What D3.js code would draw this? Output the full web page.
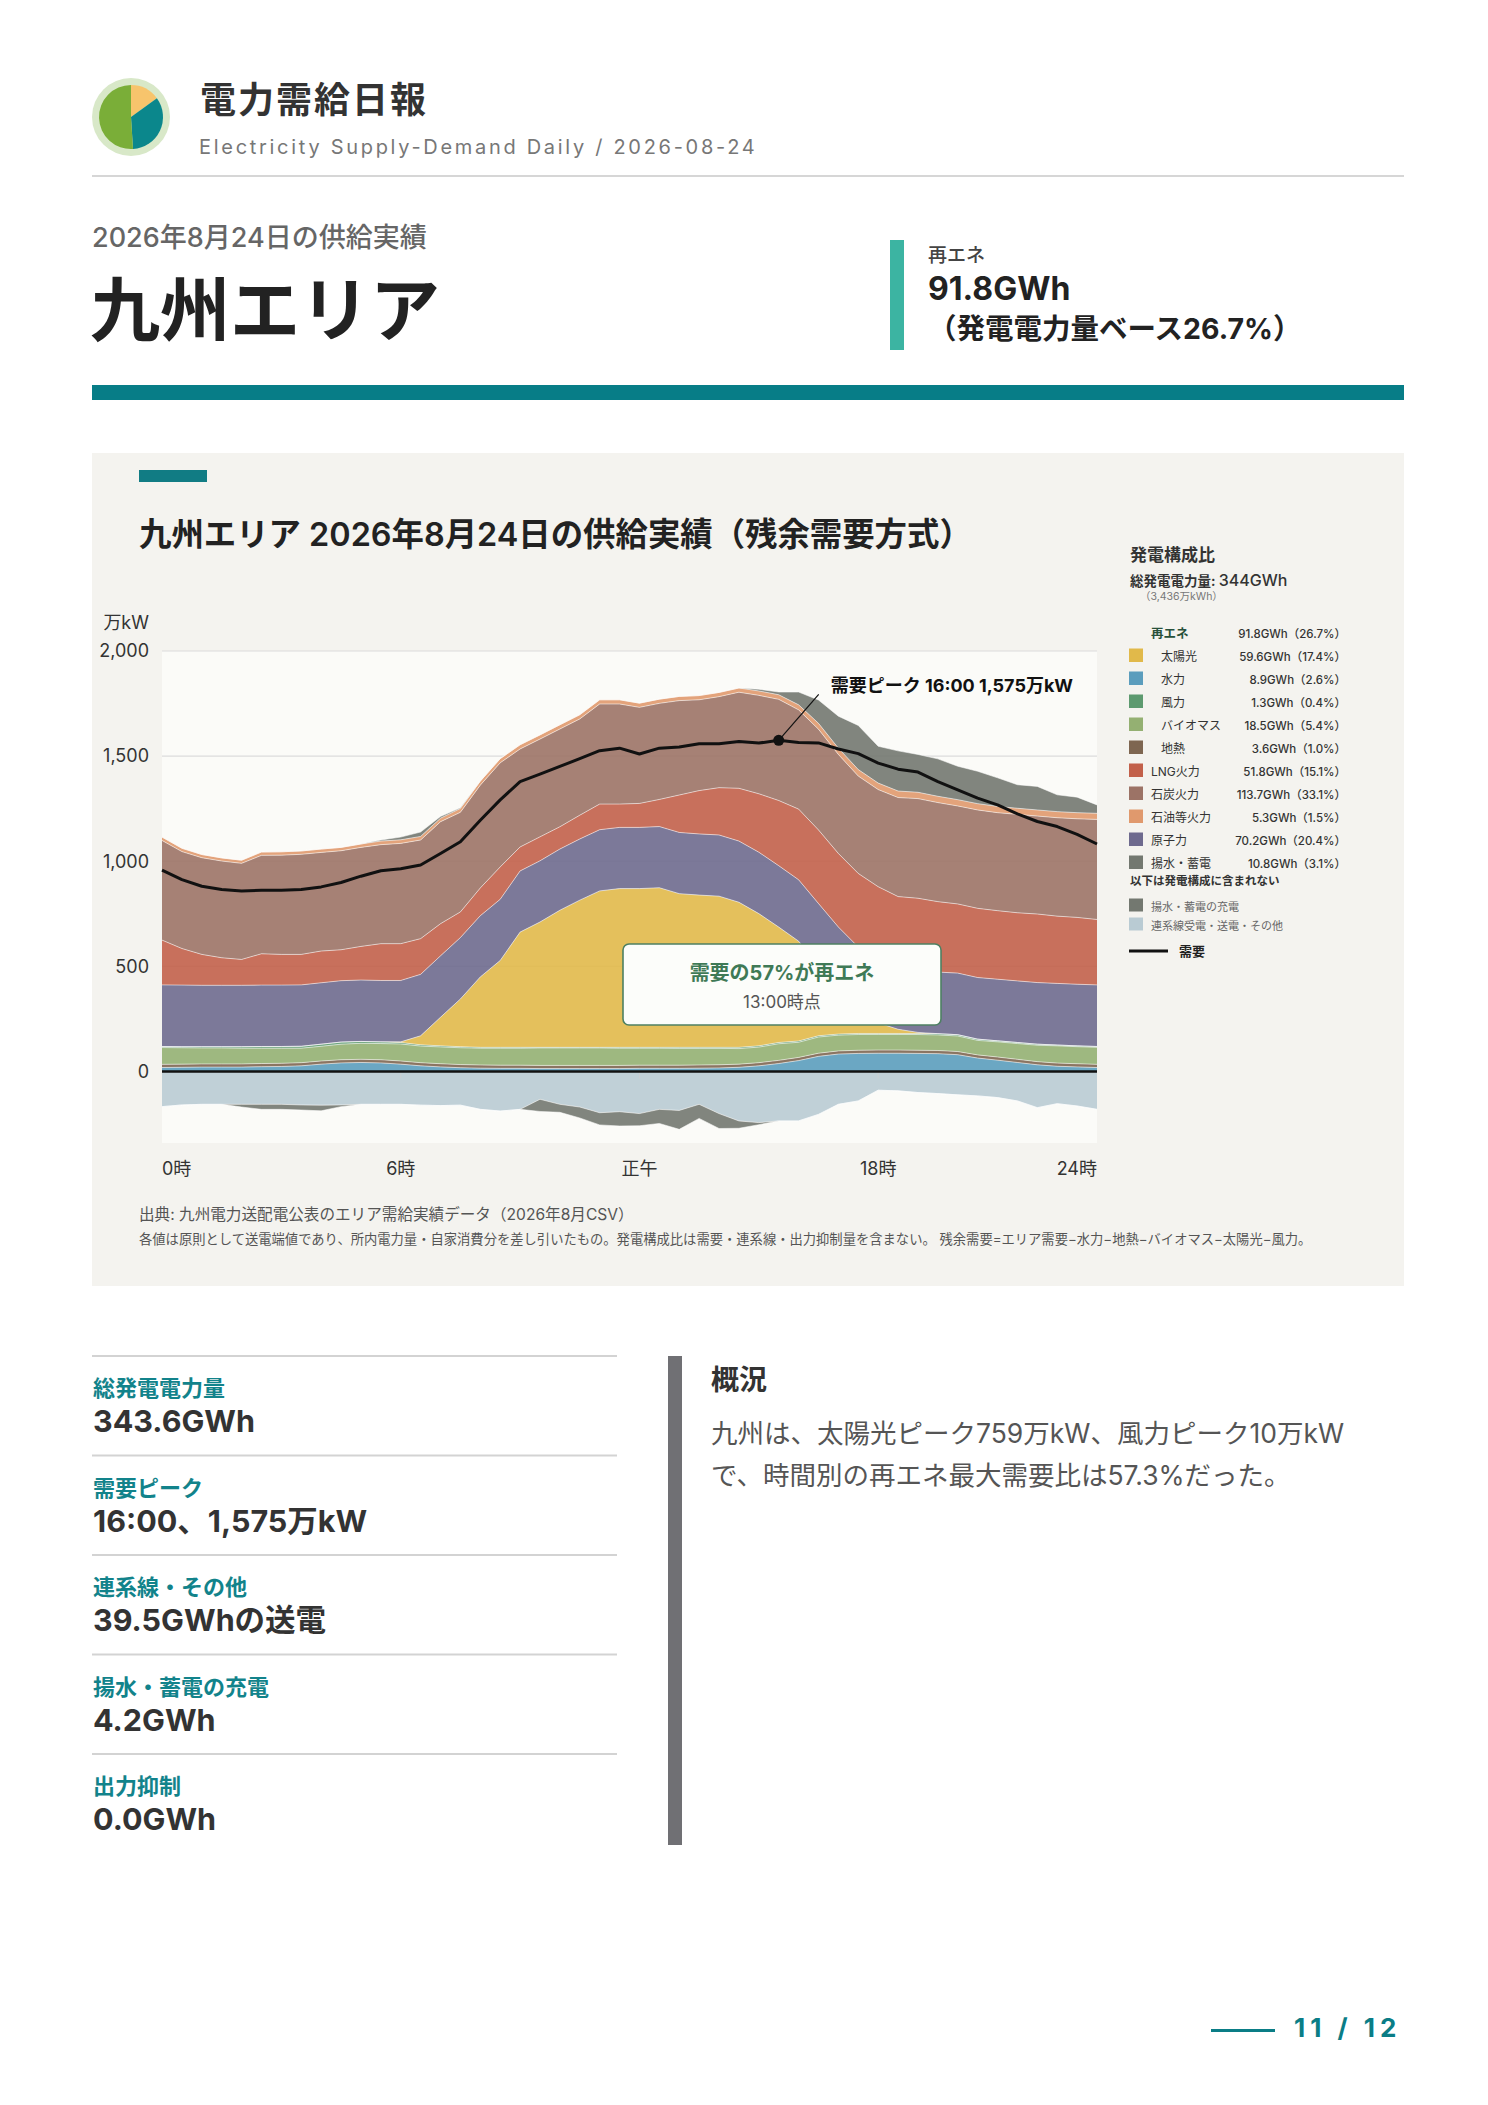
<!DOCTYPE html>
<html lang="ja">
<head>
<meta charset="UTF-8">
<meta name="viewport" content="width=device-width, initial-scale=1.0">
<script src="https://cdnjs.cloudflare.com/ajax/libs/d3/7.8.5/d3.min.js"></script>
<title>電力需給日報 九州エリア</title>
<style>
    body {
        margin: 0;
        background: #fff;
    }

    svg {
        display: block;
        font-family: Inter, "Noto Sans CJK JP", sans-serif;
    }
</style>
</head>
<body>
<svg id="page" width="1488" height="2105"></svg>

<script>
    // 30-minute slots, index 0..47 (label = slot end time)
    const demand = [958, 913, 881, 866, 859, 862, 862, 866, 878, 899, 929, 955, 964, 982, 1037, 1093, 1195, 1292, 1379, 1414,
        1451, 1488, 1526, 1538, 1510, 1538, 1543, 1559, 1559, 1570, 1562, 1575, 1565, 1563, 1534, 1512, 1467, 1438, 1424, 1379,
        1340, 1300, 1268, 1225, 1189, 1165, 1128, 1082];

    const hydro = [19, 20, 21, 21, 21, 23, 24, 27, 35, 41, 43, 41, 35, 27, 22, 18, 16, 15, 15, 14,
        14, 14, 14, 14, 15, 15, 15, 16, 17, 20, 27, 38, 52, 72, 83, 86, 87, 87, 86, 85,
        80, 64, 54, 43, 32, 25, 22, 19];
    const geothermal = [15, 15, 15, 15, 15, 15, 15, 15, 15, 15, 15, 15, 15, 15, 15, 15, 15, 15, 15, 15,
        15, 15, 15, 15, 15, 15, 15, 15, 15, 15, 15, 15, 15, 15, 15, 15, 15, 15, 15, 15,
        15, 15, 15, 15, 15, 15, 15, 15];
    const biomass = [80, 78, 76, 76, 75, 73, 72, 69, 70, 74, 76, 77, 81, 79, 80, 80, 80, 81, 81, 83,
        83, 83, 83, 82, 81, 81, 80, 79, 78, 74, 74, 79, 72, 77, 75, 75, 74, 74, 75, 74,
        74, 69, 72, 75, 78, 82, 81, 81];
    const wind = [5, 5, 6, 6, 7, 8, 8, 9, 10, 10, 9, 8, 7, 6, 5, 5, 4, 4, 4, 3,
        3, 3, 3, 4, 4, 4, 5, 5, 5, 6, 6, 6, 6, 6, 5, 5, 5, 5, 5, 6,
        6, 6, 5, 5, 5, 4, 4, 4];
    const solar = [0, 0, 0, 0, 0, 0, 0, 0, 0, 0, 0, 0, 3, 43, 136, 227, 335, 413, 548, 596,
        652, 700, 744, 755, 755, 759, 731, 724, 719, 690, 629, 549, 475, 337, 217, 119, 50, 20, 5, 0,
        0, 0, 0, 0, 0, 0, 0, 0];
    const nuclear = [293, 293, 292, 292, 292, 292, 292, 292, 292, 292, 292, 292, 292, 292, 292, 292, 291, 291, 291, 291,
        291, 291, 291, 291, 291, 291, 291, 291, 291, 291, 292, 292, 292, 292, 292, 292, 292, 293, 293, 293,
        293, 293, 293, 293, 293, 293, 293, 293];
    const lng = [213, 174, 147, 131, 123, 149, 146, 145, 151, 147, 160, 175, 175, 170, 153, 122, 132, 154, 114, 114,
        106, 113, 122, 111, 114, 129, 178, 206, 225, 251, 278, 310, 336, 350, 350, 350, 356, 338, 345, 335,
        329, 329, 326, 324, 326, 320, 318, 311];
    const coal = [474, 461, 460, 460, 457, 468, 472, 476, 469, 471, 471, 471, 477, 469, 485, 474, 489, 495, 466, 465,
        465, 458, 476, 476, 457, 457, 449, 432, 433, 457, 468, 481, 472, 479, 471, 463, 462, 471, 474, 471,
        466, 468, 466, 468, 466, 468, 469, 476];
    const oil = [16, 16, 15, 15, 15, 16, 16, 16, 16, 16, 16, 17, 17, 17, 17, 18, 19, 20, 20, 20,
        20, 20, 20, 20, 20, 20, 20, 20, 20, 20, 21, 22, 24, 28, 30, 31, 31, 31, 30, 30,
        30, 30, 30, 29, 29, 29, 29, 29];
    const pumpedGen = [0, 0, 0, 0, 0, 0, 0, 0, 0, 0, 0, 5, 13, 21, 8, 3, 0, 0, 0, 0,
        0, 0, 0, 0, 0, 0, 0, 0, 0, 0, 8, 13, 61, 111, 152, 210, 175, 191, 180, 178,
        159, 154, 136, 112, 112, 80, 74, 40];
    // not part of the generation mix (below zero)
    const interconnect = [-167, -159, -156, -156, -156, -156, -156, -159, -160, -159, -156, -156, -156, -160, -162, -160, -180, -188, -180, -132,
        -156, -169, -196, -191, -200, -180, -185, -156, -200, -235, -243, -235, -235, -204, -156, -140, -89, -92, -100, -105,
        -111, -116, -124, -140, -172, -153, -164, -180];
    const pumpedCharge = [0, 0, 0, 0, -13, -24, -24, -24, -27, -8, 0, 0, 0, 0, 0, 0, 0, 0, 0, -58,
        -38, -52, -58, -68, -58, -67, -90, -67, -71, -35, -10, 0, 0, 0, 0, 0, 0, 0, 0, 0,
        0, 0, 0, 0, 0, 0, 0, 0];

    const yTicks = [0, 500, 1000, 1500, 2000];
    const xTickIdx = [0, 12, 24, 36, 47];
    const xTickLabels = ["0時", "6時", "正午", "18時", "24時"];

    // legend (発電構成比)
    const legendKeys = ["solar", "hydro", "wind", "biomass", "geothermal", "lng", "coal", "oil", "nuclear", "pumpedGen"];
    const legendNames = ["太陽光", "水力", "風力", "バイオマス", "地熱", "LNG火力", "石炭火力", "石油等火力", "原子力", "揚水・蓄電"];
    const legendGWh = [59.6, 8.9, 1.3, 18.5, 3.6, 51.8, 113.7, 5.3, 70.2, 10.8];
    const legendPct = [17.4, 2.6, 0.4, 5.4, 1.0, 15.1, 33.1, 1.5, 20.4, 3.1];
    const legendSub = [true, true, true, true, true, false, false, false, false, false];

    const statLabels = ["総発電電力量", "需要ピーク", "連系線・その他", "揚水・蓄電の充電", "出力抑制"];
    const statValues = ["343.6GWh", "16:00、1,575万kW", "39.5GWhの送電", "4.2GWh", "0.0GWh"];

    const logoShares = [0.15, 0.34, 0.51];

    const colors = {
        hydro: "#5b9dbd",
        geothermal: "#7e6651",
        biomass: "#94b072",
        wind: "#5d9a6f",
        solar: "#e1b94a",
        nuclear: "#6e6a8e",
        lng: "#c2604a",
        coal: "#9c7366",
        oil: "#e0996d",
        pumpedGen: "#737870",
        interconnect: "#b9cbd3",
        pumpedCharge: "#737870"
    };

    const svg = d3.select("#page");

    // ---------- header ----------
    svg.append("circle").attr("cx", 131).attr("cy", 117).attr("r", 39).attr("fill", "#d8e8c8");
    const pie = d3.pie().sort(null)(logoShares);
    const logoArc = d3.arc().innerRadius(0).outerRadius(32);
    svg.append("g").attr("transform", "translate(131,117)")
        .selectAll("path").data(pie).join("path")
        .attr("d", logoArc)
        .attr("fill", (d, i) => ["#f7c46c", "#0b878c", "#7aae38"][i]);

    svg.append("text").attr("x", 200).attr("y", 113)
        .attr("font-size", 36).attr("font-weight", 700).attr("fill", "#333").attr("letter-spacing", 2)
        .text("電力需給日報");
    svg.append("text").attr("x", 199).attr("y", 154)
        .attr("font-size", 20).attr("fill", "#777").attr("letter-spacing", 2.7)
        .text("Electricity Supply-Demand Daily / 2026-08-24");
    svg.append("rect").attr("x", 92).attr("y", 175).attr("width", 1312).attr("height", 2).attr("fill", "#d6d6d6");

    svg.append("text").attr("x", 92).attr("y", 247)
        .attr("font-size", 27).attr("font-weight", 500).attr("fill", "#666")
        .text("2026年8月24日の供給実績");
    svg.append("text").attr("x", 90).attr("y", 336)
        .attr("font-size", 70).attr("font-weight", 700).attr("fill", "#222")
        .text("九州エリア");

    svg.append("rect").attr("x", 890).attr("y", 240).attr("width", 14).attr("height", 110).attr("fill", "#3cb4a2");
    svg.append("text").attr("x", 928).attr("y", 262)
        .attr("font-size", 19).attr("font-weight", 500).attr("fill", "#444").text("再エネ");
    svg.append("text").attr("x", 928).attr("y", 300)
        .attr("font-size", 32).attr("font-weight", 700).attr("fill", "#222").text("91.8GWh");
    svg.append("text").attr("x", 928).attr("y", 339)
        .attr("font-size", 28.5).attr("font-weight", 700).attr("fill", "#222").text("（発電電力量ベース26.7%）");

    svg.append("rect").attr("x", 92).attr("y", 385).attr("width", 1312).attr("height", 15).attr("fill", "#077d87");

    // ---------- chart panel ----------
    svg.append("rect").attr("x", 92).attr("y", 453).attr("width", 1312).attr("height", 833).attr("fill", "#f4f3ef");
    svg.append("rect").attr("x", 139).attr("y", 470).attr("width", 68).attr("height", 12).attr("fill", "#117c84");
    svg.append("text").attr("x", 139).attr("y", 546)
        .attr("font-size", 32.4).attr("font-weight", 600).attr("fill", "#222")
        .text("九州エリア 2026年8月24日の供給実績（残余需要方式）");

    const plot = { left: 162, right: 1097, top: 651, bottom: 1143 };

    const x = d3.scaleLinear().domain([0, 47]).range([plot.left, plot.right]);
    const y = d3.scaleLinear().domain([-340, 2000]).range([plot.bottom, plot.top]);

    svg.append("rect")
        .attr("x", plot.left).attr("y", plot.top)
        .attr("width", plot.right - plot.left).attr("height", plot.bottom - plot.top)
        .attr("fill", "#fbfbf8");

    svg.append("g").selectAll("line").data(yTicks.filter(d => d > 0)).join("line")
        .attr("x1", plot.left).attr("x2", plot.right)
        .attr("y1", d => y(d)).attr("y2", d => y(d))
        .attr("stroke", "#dcdcdc").attr("stroke-width", 1.2);

    const rows = demand.map((d, i) => ({
        hydro: hydro[i], geothermal: geothermal[i], biomass: biomass[i], wind: wind[i],
        solar: solar[i], nuclear: nuclear[i], lng: lng[i], coal: coal[i], oil: oil[i],
        pumpedGen: pumpedGen[i], interconnect: interconnect[i], pumpedCharge: pumpedCharge[i]
    }));

    // supply stacks upward from 0, exports / charging stack downward from 0
    const supplyKeys = ["hydro", "geothermal", "biomass", "wind", "solar", "nuclear", "lng", "coal", "oil", "pumpedGen"];
    const belowKeys = ["interconnect", "pumpedCharge"];

    const series = d3.stack().keys(supplyKeys)(rows)
        .concat(d3.stack().keys(belowKeys)(rows));

    const area = d3.area()
        .x((d, i) => x(i))
        .y0(d => y(d[0]))
        .y1(d => y(d[1]));

    svg.append("g").selectAll("path").data(series).join("path")
        .attr("d", area)
        .attr("fill", d => colors[d.key])
        .attr("fill-opacity", 0.9);

    // thin light seams between layers
    const seam = d3.line().x((d, i) => x(i)).y(d => y(d[1]));
    svg.append("g").selectAll("path").data(series).join("path")
        .attr("d", seam)
        .attr("fill", "none")
        .attr("stroke", "#ffffff")
        .attr("stroke-opacity", 0.6)
        .attr("stroke-width", 0.9);

    // small ticks under the zero line
    svg.append("g").selectAll("line").data(xTickIdx.slice(1, 4)).join("line")
        .attr("x1", d => x(d)).attr("x2", d => x(d))
        .attr("y1", y(0)).attr("y2", y(0) + 7)
        .attr("stroke", "#c9cfd2").attr("stroke-width", 1);

    svg.append("line")
        .attr("x1", plot.left).attr("x2", plot.right)
        .attr("y1", y(0)).attr("y2", y(0))
        .attr("stroke", "#111").attr("stroke-width", 2.6);

    const demandLine = d3.line().x((d, i) => x(i)).y(d => y(d));
    svg.append("path").datum(demand)
        .attr("d", demandLine)
        .attr("fill", "none")
        .attr("stroke", "#111")
        .attr("stroke-width", 3)
        .attr("stroke-linejoin", "round");

    // y axis
    const yAxis = svg.append("g")
        .attr("transform", `translate(${plot.left - 13},0)`)
        .call(d3.axisLeft(y).tickValues(yTicks).tickSize(0).tickPadding(0).tickFormat(d3.format(",")));
    yAxis.select(".domain").remove();
    yAxis.selectAll("text")
        .attr("font-family", "Inter, 'Noto Sans CJK JP', sans-serif")
        .attr("font-size", 18).attr("fill", "#333");

    svg.append("text").attr("x", plot.left - 13).attr("y", 629)
        .attr("text-anchor", "end").attr("font-size", 18).attr("fill", "#333").text("万kW");

    // x labels
    svg.append("g").selectAll("text").data(xTickIdx).join("text")
        .attr("x", d => x(d))
        .attr("y", 1175)
        .attr("text-anchor", (d, i) => i === 0 ? "start" : (i === xTickIdx.length - 1 ? "end" : "middle"))
        .attr("font-size", 18).attr("fill", "#333")
        .text((d, i) => xTickLabels[i]);

    // demand peak
    const peakIdx = d3.maxIndex(demand);
    const px = x(peakIdx), py = y(demand[peakIdx]);
    svg.append("line")
        .attr("x1", px).attr("y1", py)
        .attr("x2", px + 40).attr("y2", py - 46)
        .attr("stroke", "#111").attr("stroke-width", 1.2);
    svg.append("circle").attr("cx", px).attr("cy", py).attr("r", 5.5).attr("fill", "#111");
    svg.append("text").attr("x", px + 52).attr("y", py - 48)
        .attr("font-size", 18).attr("font-weight", 700).attr("fill", "#111")
        .text(`需要ピーク 16:00 ${d3.format(",")(demand[peakIdx])}万kW`);

    // renewable share callout
    const callout = svg.append("g").attr("transform", "translate(623,944)");
    callout.append("rect")
        .attr("width", 318).attr("height", 81).attr("rx", 6)
        .attr("fill", "#fcfdfa").attr("stroke", "#4d8062").attr("stroke-width", 1.6);
    callout.append("text").attr("x", 159).attr("y", 36)
        .attr("text-anchor", "middle").attr("font-size", 20).attr("font-weight", 700).attr("fill", "#3f7a56")
        .text("需要の57%が再エネ");
    callout.append("text").attr("x", 159).attr("y", 64)
        .attr("text-anchor", "middle").attr("font-size", 17).attr("fill", "#555")
        .text("13:00時点");

    // ---------- legend ----------
    const lg = svg.append("g");
    lg.append("text").attr("x", 1130).attr("y", 561)
        .attr("font-size", 17).attr("font-weight", 700).attr("fill", "#333").text("発電構成比");
    const tot = lg.append("text").attr("x", 1130).attr("y", 586).attr("fill", "#333");
    tot.append("tspan").attr("font-size", 13.5).attr("font-weight", 700).text("総発電電力量: ");
    tot.append("tspan").attr("font-size", 16).attr("font-weight", 500).text("344GWh");
    lg.append("text").attr("x", 1140).attr("y", 600)
        .attr("font-size", 10.5).attr("fill", "#777").text("（3,436万kWh）");

    lg.append("text").attr("x", 1151).attr("y", 638)
        .attr("font-size", 12.5).attr("font-weight", 700).attr("fill", "#27503a").text("再エネ");
    lg.append("text").attr("x", 1346).attr("y", 638).attr("text-anchor", "end")
        .attr("font-size", 11.5).attr("font-weight", 500).attr("fill", "#333").text("91.8GWh（26.7%）");

    const rowsG = lg.selectAll("g.row").data(legendKeys).join("g")
        .attr("class", "row")
        .attr("transform", (d, i) => `translate(0,${661 + i * 23})`);
    rowsG.append("rect")
        .attr("x", 1129).attr("y", -12.5).attr("width", 14).attr("height", 13.5)
        .attr("fill", d => colors[d]);
    rowsG.append("text")
        .attr("x", (d, i) => legendSub[i] ? 1161 : 1151)
        .attr("font-size", 12).attr("fill", "#333")
        .text((d, i) => legendNames[i]);
    rowsG.append("text")
        .attr("x", 1346).attr("text-anchor", "end")
        .attr("font-size", 11.5).attr("font-weight", 500).attr("fill", "#333")
        .text((d, i) => `${legendGWh[i].toFixed(1)}GWh（${legendPct[i].toFixed(1)}%）`);

    lg.append("text").attr("x", 1130).attr("y", 885)
        .attr("font-size", 11.5).attr("font-weight", 700).attr("fill", "#333").text("以下は発電構成に含まれない");

    const extraKeys = ["pumpedCharge", "interconnect"];
    const extraNames = ["揚水・蓄電の充電", "連系線受電・送電・その他"];
    const extraG = lg.selectAll("g.extra").data(extraKeys).join("g")
        .attr("class", "extra")
        .attr("transform", (d, i) => `translate(0,${911 + i * 19})`);
    extraG.append("rect")
        .attr("x", 1129).attr("y", -12.5).attr("width", 14).attr("height", 13)
        .attr("fill", d => colors[d]);
    extraG.append("text").attr("x", 1151)
        .attr("font-size", 11).attr("fill", "#666")
        .text((d, i) => extraNames[i]);

    lg.append("line").attr("x1", 1129).attr("x2", 1168).attr("y1", 951).attr("y2", 951)
        .attr("stroke", "#111").attr("stroke-width", 2.8);
    lg.append("text").attr("x", 1179).attr("y", 956)
        .attr("font-size", 13).attr("font-weight", 700).attr("fill", "#222").text("需要");

    // notes
    svg.append("text").attr("x", 139).attr("y", 1220)
        .attr("font-size", 15.6).attr("fill", "#555")
        .text("出典: 九州電力送配電公表のエリア需給実績データ（2026年8月CSV）");
    svg.append("text").attr("x", 139).attr("y", 1244)
        .attr("font-size", 13.3).attr("fill", "#555")
        .text("各値は原則として送電端値であり、所内電力量・自家消費分を差し引いたもの。発電構成比は需要・連系線・出力抑制量を含まない。 残余需要=エリア需要−水力−地熱−バイオマス−太陽光−風力。");

    // ---------- stats ----------
    const stats = svg.append("g").selectAll("g").data(statLabels).join("g")
        .attr("transform", (d, i) => `translate(92,${1356 + i * 99.5})`);
    stats.append("rect").attr("x", 0).attr("y", -1).attr("width", 525).attr("height", 2).attr("fill", "#d3d3d3");
    stats.append("text").attr("x", 1).attr("y", 40)
        .attr("font-size", 22).attr("font-weight", 700).attr("fill", "#12838b")
        .text(d => d);
    stats.append("text").attr("x", 1).attr("y", 76)
        .attr("font-size", 30.5).attr("font-weight", 700).attr("fill", "#333")
        .text((d, i) => statValues[i]);

    svg.append("rect").attr("x", 668).attr("y", 1356).attr("width", 14).attr("height", 489).attr("fill", "#707074");
    svg.append("text").attr("x", 711).attr("y", 1390)
        .attr("font-size", 28).attr("font-weight", 700).attr("fill", "#333").text("概況");
    const summary = ["九州は、太陽光ピーク759万kW、風力ピーク10万kW", "で、時間別の再エネ最大需要比は57.3%だった。"];
    svg.append("g").selectAll("text").data(summary).join("text")
        .attr("x", 711).attr("y", (d, i) => 1443 + i * 42)
        .attr("font-size", 26.5).attr("fill", "#555")
        .text(d => d);

    // ---------- footer ----------
    svg.append("rect").attr("x", 1211).attr("y", 2029).attr("width", 64).attr("height", 3).attr("fill", "#0a7d86");
    svg.append("text").attr("x", 1294).attr("y", 2037)
        .attr("font-size", 26).attr("font-weight", 700).attr("fill", "#0a7d86").attr("letter-spacing", 5)
        .text("11 / 12");
</script>
</body>
</html>
